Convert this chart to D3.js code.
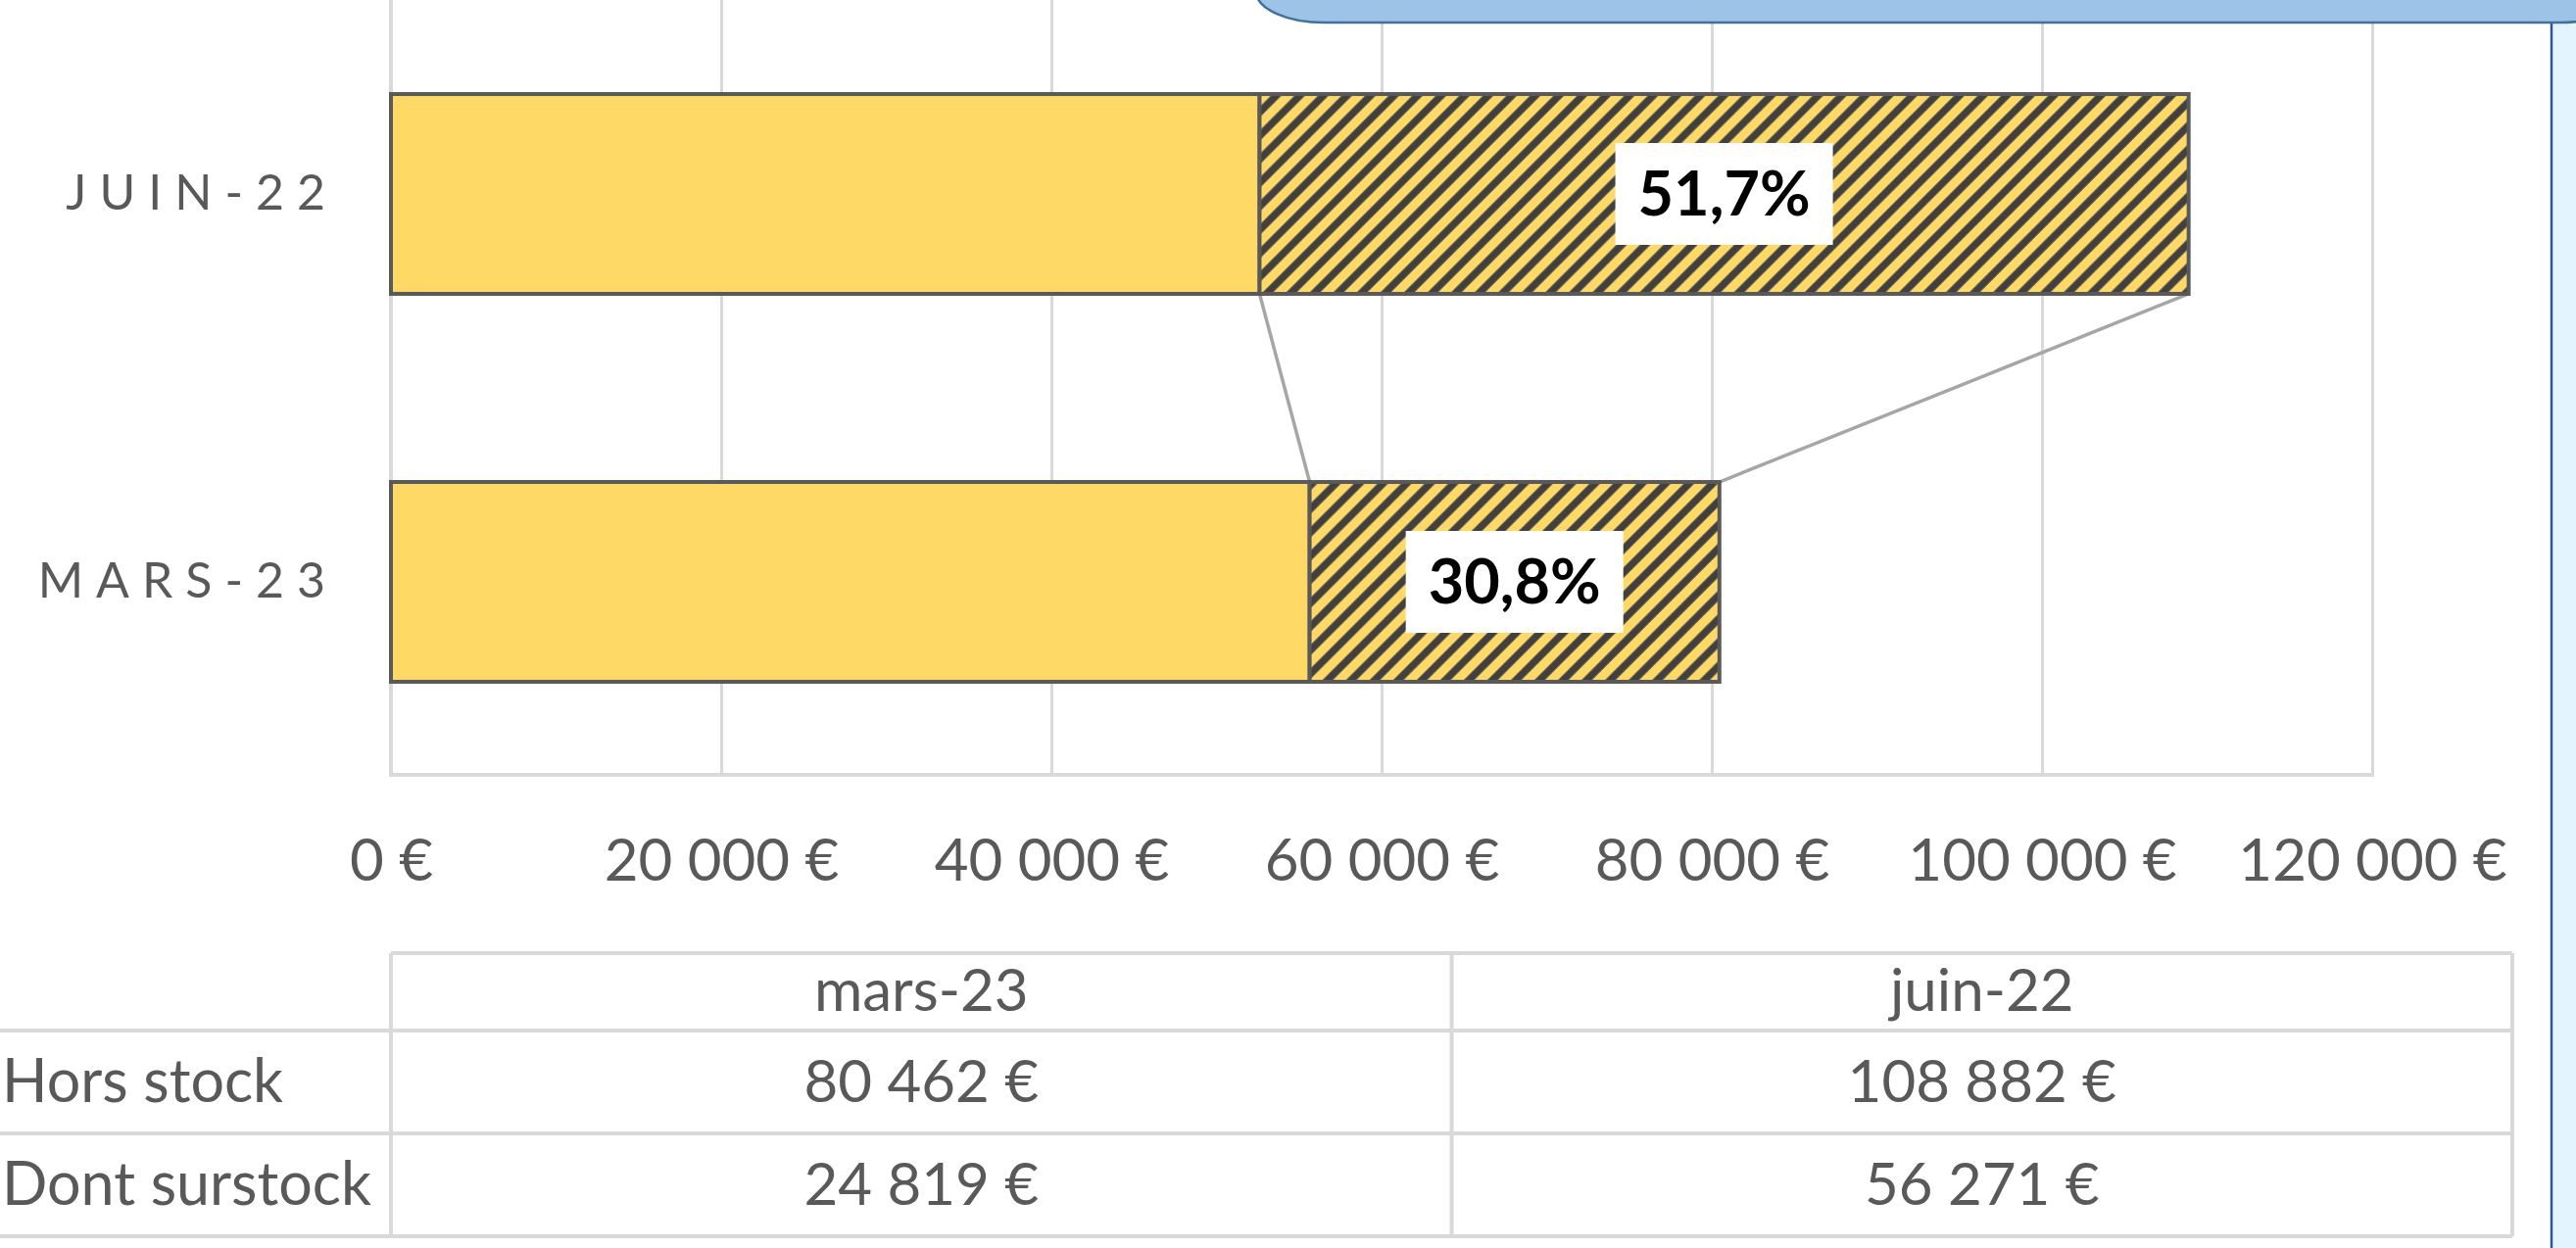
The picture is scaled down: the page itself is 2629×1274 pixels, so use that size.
<!DOCTYPE html>
<html>
<head>
<meta charset="utf-8">
<script src="https://cdn.jsdelivr.net/npm/d3@7"></script>
<style>
  html, body { margin: 0; padding: 0; background: #fff; overflow: hidden; }
  svg { display: block; font-family: Lato, "Open Sans", sans-serif; }
</style>
</head>
<body>
<script>
// Canvas setup
const canvasWidth = 2629;
const canvasHeight = 1274;

// Data
const categories = ["mars-23", "juin-22"];
const horsStock = [80462, 108882];
const surstock = [24819, 56271];
const rowLabels = ["Hors stock", "Dont surstock"];
const xTicks = [0, 20000, 40000, 60000, 80000, 100000, 120000];

const fr = d3.formatLocale({
    decimal: ",",
    thousands: "\u00a0",
    grouping: [3],
    currency: ["", "\u00a0€"]
});
const euro = fr.format("$,.0f");
const pct = fr.format(".1%");

const svg = d3.select('body')
    .append('svg')
    .attr('width', canvasWidth)
    .attr('height', canvasHeight);

// hatch pattern for the surstock part
const defs = svg.append("defs");
const pat = defs.append("pattern")
    .attr("id", "hatch")
    .attr("patternUnits", "userSpaceOnUse")
    .attr("width", 17)
    .attr("height", 17)
    .attr("patternTransform", "rotate(45)");
pat.append("rect").attr("width", 17).attr("height", 17).attr("fill", "#FFD966");
pat.append("line")
    .attr("x1", 4).attr("y1", 0).attr("x2", 4).attr("y2", 17)
    .attr("stroke", "#404040").attr("stroke-width", 7.5);

// rows: juin-22 on top, mars-23 below
let data = categories.map((c, i) => ({
    cat: c,
    total: horsStock[i],
    sur: surstock[i],
    base: horsStock[i] - surstock[i]
}));

const plotLeft = 399, plotRight = 2421, plotTop = 0, plotBottom = 792;

let xScale = d3.scaleLinear()
    .domain([0, 120000])
    .range([plotLeft, plotRight]);

let yScale = d3.scaleBand()
    .domain(categories.slice().reverse())
    .range([plotTop, plotBottom])
    .paddingInner(0.485)
    .paddingOuter(0.2425);

// gridlines
svg.append("g")
    .attr("transform", `translate(0,${plotBottom - 1})`)
    .call(d3.axisBottom(xScale).tickValues(xTicks.slice(1)).tickSize(-(plotBottom + 10)).tickFormat(""))
    .call(g => g.select(".domain").remove())
    .call(g => g.selectAll("line").attr("stroke", "#D9D9D9").attr("stroke-width", 3));

// axis lines
svg.append("line")
    .attr("x1", xScale(0)).attr("x2", xScale(0))
    .attr("y1", 0).attr("y2", plotBottom)
    .attr("stroke", "#D9D9D9").attr("stroke-width", 4);
svg.append("line")
    .attr("x1", xScale(0) - 2).attr("x2", xScale(120000) + 2)
    .attr("y1", plotBottom - 1).attr("y2", plotBottom - 1)
    .attr("stroke", "#D9D9D9").attr("stroke-width", 4);

// tick labels
svg.append("g")
    .attr("transform", `translate(0,${plotBottom - 1})`)
    .call(d3.axisBottom(xScale).tickValues(xTicks).tickSize(0).tickPadding(0).tickFormat(euro))
    .call(g => g.select(".domain").remove())
    .call(g => g.selectAll("text")
        .attr("y", 108)
        .attr("dy", null)
        .attr("fill", "#595959")
        .attr("font-size", 60)
        .attr("font-family", "Lato, sans-serif"));

// series lines between bars
const bw = yScale.bandwidth();
const upper = data.find(d => d.cat === "juin-22");
const lower = data.find(d => d.cat === "mars-23");
const seriesLines = [
    [[xScale(upper.base), yScale(upper.cat) + bw], [xScale(lower.base), yScale(lower.cat)]],
    [[xScale(upper.total), yScale(upper.cat) + bw], [xScale(lower.total), yScale(lower.cat)]]
];
svg.append("g").selectAll("path").data(seriesLines).enter().append("path")
    .attr("d", d3.line())
    .attr("stroke", "#A6A6A6")
    .attr("stroke-width", 3.5)
    .attr("fill", "none");

// bars
let barGroup = svg.append("g");
barGroup.selectAll("rect.base").data(data).enter().append("rect")
    .attr("class", "base")
    .attr("x", d => xScale(0))
    .attr("y", d => yScale(d.cat))
    .attr("width", d => xScale(d.base) - xScale(0))
    .attr("height", bw)
    .attr("fill", "#FFD966")
    .attr("stroke", "#595959")
    .attr("stroke-width", 4);
barGroup.selectAll("rect.sur").data(data).enter().append("rect")
    .attr("class", "sur")
    .attr("x", d => xScale(d.base))
    .attr("y", d => yScale(d.cat))
    .attr("width", d => xScale(d.total) - xScale(d.base))
    .attr("height", bw)
    .attr("fill", "url(#hatch)")
    .attr("stroke", "#595959")
    .attr("stroke-width", 4);

// percent labels
let labels = svg.append("g").selectAll("g").data(data).enter().append("g")
    .attr("transform", d => `translate(${(xScale(d.base) + xScale(d.total)) / 2},${yScale(d.cat) + bw / 2})`);
labels.append("rect")
    .attr("x", -111).attr("y", -52)
    .attr("width", 222).attr("height", 104)
    .attr("fill", "#fff");
labels.append("text")
    .attr("text-anchor", "middle")
    .attr("y", 22)
    .attr("font-size", 63)
    .attr("font-weight", "bold")
    .attr("fill", "#000")
    .text(d => pct(d.sur / d.total));

// category labels
svg.append("g").selectAll("text").data(data).enter().append("text")
    .attr("x", 345)
    .attr("y", d => yScale(d.cat) + bw / 2 + 16)
    .attr("text-anchor", "end")
    .attr("font-size", 50)
    .attr("letter-spacing", 13)
    .attr("fill", "#595959")
    .text(d => d.cat.toUpperCase());

// data table
const tableCols = d3.scaleBand().domain(categories).range([399, 2564]);
const rowY = [973, 1052, 1157, 1262];
const tbl = svg.append("g");
const lineColor = "#D9D9D9";
tbl.append("line").attr("x1", 399).attr("x2", 2564).attr("y1", rowY[0]).attr("y2", rowY[0])
    .attr("stroke", lineColor).attr("stroke-width", 4);
tbl.selectAll("line.h").data(rowY.slice(1)).enter().append("line")
    .attr("class", "h")
    .attr("x1", 0).attr("x2", 2564)
    .attr("y1", d => d).attr("y2", d => d)
    .attr("stroke", lineColor).attr("stroke-width", 4);
tbl.selectAll("line.v").data([399, ...categories.map(c => tableCols(c) + tableCols.bandwidth())]).enter().append("line")
    .attr("class", "v")
    .attr("x1", d => d).attr("x2", d => d)
    .attr("y1", rowY[0]).attr("y2", rowY[3])
    .attr("stroke", lineColor).attr("stroke-width", 4);

const cellText = (sel) => sel
    .attr("font-size", 60)
    .attr("fill", "#595959");

tbl.selectAll("text.head").data(categories).enter().append("text")
    .attr("class", "head")
    .attr("x", c => tableCols(c) + tableCols.bandwidth() / 2)
    .attr("y", (rowY[0] + rowY[1]) / 2 + 19)
    .attr("text-anchor", "middle")
    .call(cellText)
    .text(c => c);

const rows = [horsStock, surstock];
rows.forEach((vals, r) => {
    const cy = (rowY[r + 1] + rowY[r + 2]) / 2 + 20;
    tbl.append("text")
        .attr("x", 2)
        .attr("y", cy)
        .call(cellText)
        .attr("font-size", 61)
        .text(rowLabels[r]);
    tbl.selectAll(null).data(categories).enter().append("text")
        .attr("x", c => tableCols(c) + tableCols.bandwidth() / 2)
        .attr("y", cy)
        .attr("text-anchor", "middle")
        .call(cellText)
        .text((c, i) => euro(vals[i]));
});

// decorative pieces at the frame edges
svg.append("rect")
    .attr("x", 2604).attr("y", 20)
    .attr("width", 40).attr("height", canvasHeight)
    .attr("fill", "#E4F4FE")
    .attr("stroke", "#2F5597").attr("stroke-width", 2.5);
svg.append("rect")
    .attr("x", 1282).attr("y", -40)
    .attr("width", 1400).attr("height", 63)
    .attr("rx", 70).attr("ry", 55)
    .attr("fill", "#9DC3E6")
    .attr("stroke", "#41719C").attr("stroke-width", 2.5);
</script>
</body>
</html>
